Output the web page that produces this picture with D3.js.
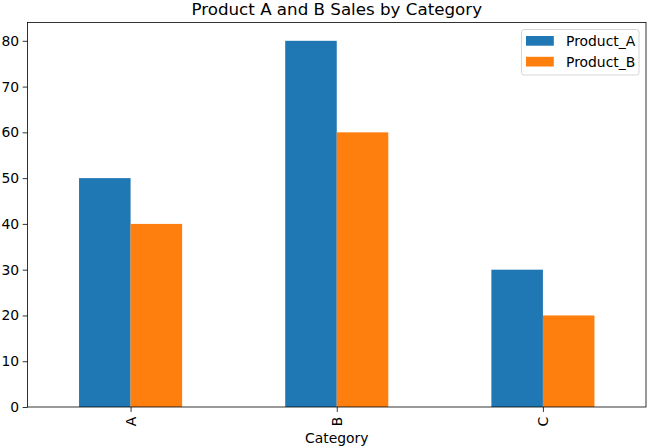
<!DOCTYPE html>
<html><head><meta charset="utf-8">
<script src="https://cdn.jsdelivr.net/npm/d3@7"></script>
<style>body{margin:0;background:#fff}svg{display:block;font-family:"DejaVu Sans",sans-serif}</style>
</head><body>
<svg id="c" width="647" height="446"></svg>
<script>
const categories = ["A","B","C"];
const productA = [50,80,30];
const productB = [40,60,20];
const seriesNames = ["Product_A","Product_B"];
const colors = ["#1f77b4","#ff7f0e"];
const yTicks = [0,10,20,30,40,50,60,70,80];

const svg = d3.select("#c");
const L=27.5, R=646, T=22.5, B=407;
const x = d3.scaleLinear().domain([-0.5, categories.length-0.5]).range([L,R]);
const y = d3.scaleLinear().domain([0,84]).range([B,T]);
const bw = 0.25;
const series=[productA, productB];

series.forEach((vals,si)=>{
  svg.append("g").selectAll("rect").data(vals).join("rect")
    .attr("x",(d,i)=>x(i - bw + si*bw))
    .attr("width",(d,i)=>x(i+bw)-x(i))
    .attr("y",d=>y(d))
    .attr("height",d=>y(0)-y(d))
    .attr("fill",colors[si]);
});

// y axis
const ya = svg.append("g").attr("transform",`translate(${L},0)`)
  .call(d3.axisLeft(y).tickValues(yTicks).tickSize(4.9).tickPadding(3.5));
ya.select(".domain").remove();
ya.selectAll("text").attr("font-size","13.9px").attr("font-family","DejaVu Sans").attr("fill","#000");
ya.selectAll("line").attr("stroke","#000").attr("stroke-width",0.8);

// x axis
const xa = svg.append("g").attr("transform",`translate(0,${B})`)
  .call(d3.axisBottom(x).tickValues(d3.range(categories.length)).tickFormat(i=>categories[i]).tickSize(4.9));
xa.select(".domain").remove();
xa.selectAll("line").attr("stroke","#000").attr("stroke-width",0.8);
xa.selectAll("text").attr("font-size","13.9px").attr("font-family","DejaVu Sans").attr("fill","#000")
  .attr("transform","rotate(-90)").attr("text-anchor","end").attr("x",-9.8).attr("y",0).attr("dy","0.35em");

// spines
svg.append("rect").attr("x",L).attr("y",T).attr("width",R-L).attr("height",B-T)
  .attr("fill","none").attr("stroke","#000").attr("stroke-width",0.8);

// title
svg.append("text").attr("x",(L+R)/2).attr("y",15).attr("text-anchor","middle")
  .attr("font-size","16.7px").text("Product A and B Sales by Category");
svg.append("text").attr("x",(L+R)/2).attr("y",443).attr("text-anchor","middle")
  .attr("font-size","13.9px").text("Category");

// legend
const lg = svg.append("g");
lg.append("rect").attr("x",521.5).attr("y",29.5).attr("width",117.5).attr("height",45.5)
  .attr("rx",2.5).attr("fill","#fff").attr("fill-opacity",0.8).attr("stroke","#ccc").attr("stroke-width",0.8);
seriesNames.forEach((n,i)=>{
  lg.append("rect").attr("x",526).attr("y",36+i*20.8).attr("width",27.8).attr("height",9.7).attr("fill",colors[i]);
  lg.append("text").attr("x",566).attr("y",46+i*20.8).attr("font-size","13.9px").text(n);
});
</script>
</body></html>
